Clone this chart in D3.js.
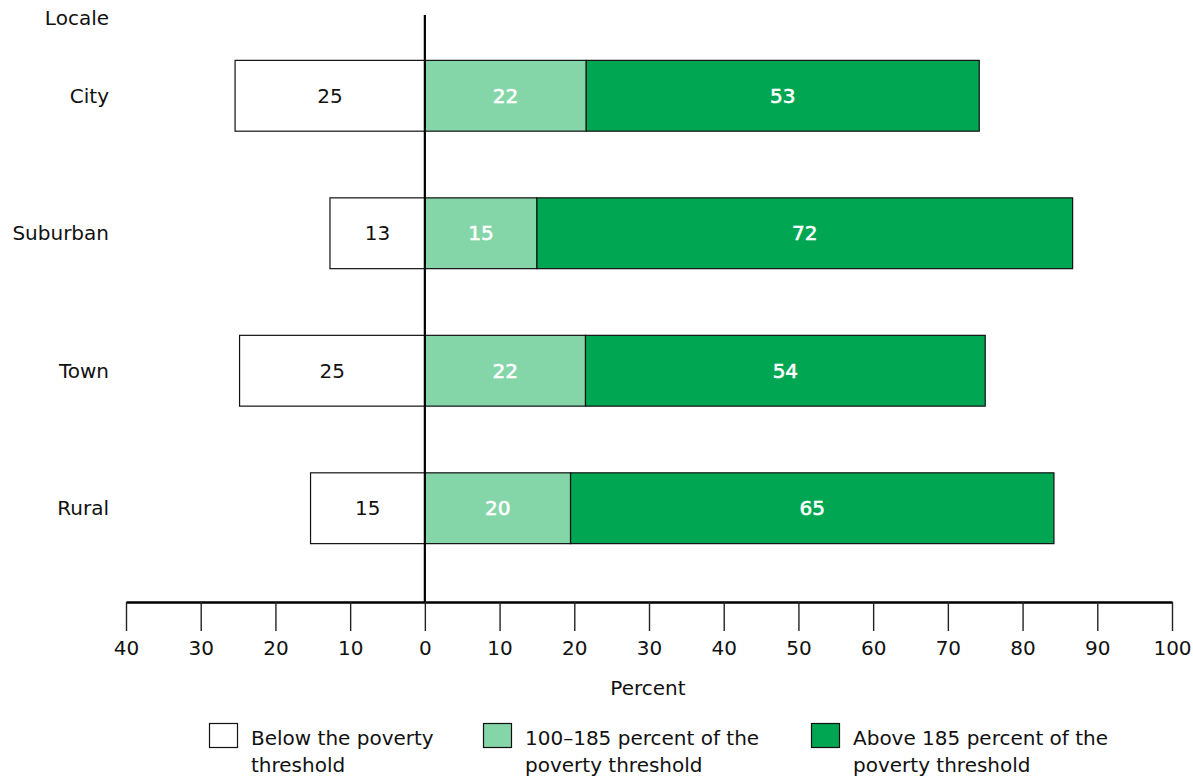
<!DOCTYPE html>
<html><head><meta charset="utf-8">
<script src="https://cdn.jsdelivr.net/npm/d3@7"></script>
<style>body{margin:0;background:#fff;} svg{display:block;font-family:"DejaVu Sans",Verdana,sans-serif;}</style>
</head><body>
<svg id="chart" width="1193" height="782"></svg>
<script>
const categories = ["City", "Suburban", "Town", "Rural"];
const below = [25.4, 12.7, 24.8, 15.3];
const mid = [21.6, 15.0, 21.5, 19.5];
const above = [52.6, 71.7, 53.5, 64.7];
const tickValues = [-40, -30, -20, -10, 0, 10, 20, 30, 40, 50, 60, 70, 80, 90, 100];
const legendLabels = [["Below the poverty", "threshold"], ["100\u2013185 percent of the", "poverty threshold"], ["Above 185 percent of the", "poverty threshold"]];
const colors = ["#ffffff", "#84d5a8", "#00a651"];

const FONT = "DejaVu Sans, Verdana, sans-serif";
const svg = d3.select("#chart");
const x = d3.scaleLinear().domain([-40, 100]).range([126, 1172]);
const y = d3.scaleBand().domain(categories).range([26, 578]).paddingInner(0.485).paddingOuter(0.25);

const rows = categories.map((c, i) => ({c, below: below[i], mid: mid[i], above: above[i]}));

const g = svg.append("g");
rows.forEach(r => {
  const segs = [
    {x0: -r.below, x1: 0, v: r.below, fill: colors[0], tc: "#111", sw: 0},
    {x0: 0, x1: r.mid, v: r.mid, fill: colors[1], tc: "#fff", sw: 0.6},
    {x0: r.mid, x1: r.mid + r.above, v: r.above, fill: colors[2], tc: "#fff", sw: 0.6}
  ];
  segs.forEach(s => {
    g.append("rect").attr("x", x(s.x0)).attr("y", y(r.c))
      .attr("width", x(s.x1) - x(s.x0)).attr("height", y.bandwidth())
      .attr("fill", s.fill).attr("stroke", "#111").attr("stroke-width", 1.2);
    g.append("text").attr("x", (x(s.x0) + x(s.x1)) / 2).attr("y", y(r.c) + y.bandwidth() / 2)
      .attr("dy", "0.35em").attr("text-anchor", "middle").attr("font-size", 20)
      .attr("fill", s.tc).attr("stroke", s.tc).attr("stroke-width", s.sw).text(Math.round(s.v));
  });
  svg.append("text").attr("x", 109).attr("y", y(r.c) + y.bandwidth() / 2).attr("dy", "0.35em")
    .attr("text-anchor", "end").attr("font-size", 20).attr("fill", "#111").text(r.c);
});

svg.append("text").attr("x", 109).attr("y", 18).attr("dy", "0.35em").attr("text-anchor", "end")
  .attr("font-size", 20).attr("fill", "#111").text("Locale");

svg.append("line").attr("x1", x(0)).attr("x2", x(0)).attr("y1", 15).attr("y2", 602)
  .attr("stroke", "#000").attr("stroke-width", 2.2);

const axis = d3.axisBottom(x).tickValues(tickValues).tickSize(29).tickSizeOuter(0)
  .tickFormat(d => Math.abs(d));
const ag = svg.append("g").attr("transform", "translate(0,602)").call(axis);
ag.select(".domain").attr("stroke", "#000").attr("stroke-width", 2.4);
ag.selectAll(".tick line").attr("stroke", "#222").attr("stroke-width", 1.4);
ag.selectAll(".tick text").attr("font-size", 20).attr("font-family", FONT)
  .attr("fill", "#111").attr("y", 39);

svg.append("text").attr("x", 648).attr("y", 688).attr("dy", "0.35em").attr("text-anchor", "middle")
  .attr("font-size", 20).attr("fill", "#111").text("Percent");

const legX = [209, 483, 811];
legendLabels.forEach((lab, i) => {
  svg.append("rect").attr("x", legX[i] + 0.5).attr("y", 723.5).attr("width", 28).attr("height", 24)
    .attr("fill", colors[i]).attr("stroke", "#111").attr("stroke-width", 1.2);
  lab.forEach((t, j) => {
    svg.append("text").attr("x", legX[i] + 42).attr("y", 738 + j * 27).attr("dy", "0.35em")
      .attr("font-size", 20).attr("fill", "#111").text(t);
  });
});
</script>
</body></html>
